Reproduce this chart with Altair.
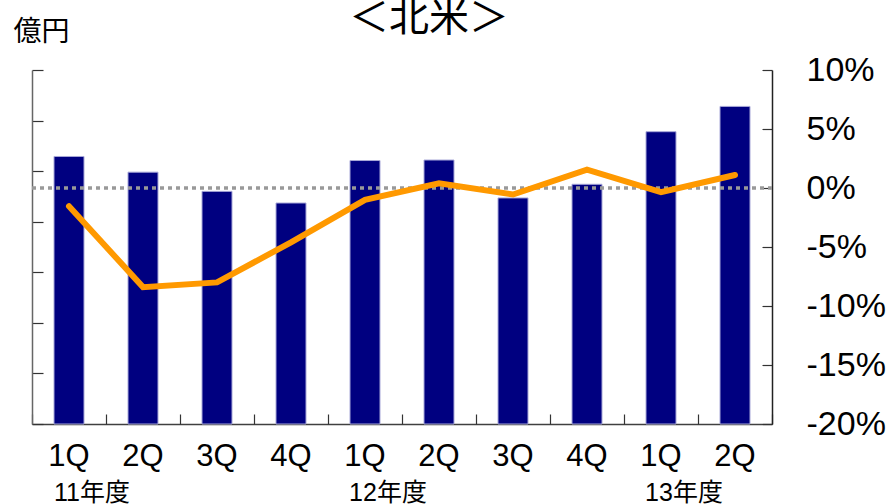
import altair as alt
import pandas as pd

# ---- data ----
quarters = ["1Q", "2Q", "3Q", "4Q", "1Q", "2Q", "3Q", "4Q", "1Q", "2Q"]
years = ["11年度", "11年度", "11年度", "11年度", "12年度", "12年度", "12年度", "12年度", "13年度", "13年度"]
sales = [529, 498, 460, 437, 521, 522, 447, 474, 578, 628]          # 億円 (left axis, unlabeled)
growth = [-1.55, -8.4, -8.0, -4.6, -1.0, 0.4, -0.55, 1.55, -0.35, 1.1]  # % (right axis)
left_ticks = [0, 100, 200, 300, 400, 500, 600, 700]
right_ticks = [-20, -15, -10, -5, 0, 5, 10]

keys = [f"{y}|{q}" for y, q in zip(years, quarters)]
df = pd.DataFrame({"key": keys, "quarter": quarters, "year": years,
                   "sales": sales, "growth": growth})
zero = pd.DataFrame({"growth": [0]})

W, H = 740, 354
LATIN = "Liberation Sans"
CJK = "Noto Sans CJK JP"

xscale = alt.Scale(paddingInner=0, paddingOuter=0)

bars = alt.Chart(df).mark_bar(size=30, color="#000080", stroke="#a8a8d8", strokeWidth=1).encode(
    x=alt.X("key:N", sort=keys, scale=xscale,
            axis=alt.Axis(orient="bottom", title=None,
                          labelExpr="split(datum.label, '|')[1]",
                          labelFontSize=31, labelFont=LATIN, labelColor="black",
                          labelPadding=17, labelBaseline="top", labelAngle=0,
                          labelOverlap=False, ticks=False, domain=True,
                          domainColor="#404040", domainWidth=1.5, grid=False)),
    y=alt.Y("sales:Q", scale=alt.Scale(domain=[0, 700], nice=False, zero=True),
            axis=alt.Axis(orient="right", offset=-W, values=left_ticks, labels=False,
                          ticks=True, tickSize=11, tickColor="#333333", tickWidth=1.2,
                          domain=True, domainColor="#666666", domainWidth=1.5, grid=False,
                          title="億円", titleAngle=0, titleX=-19, titleY=-30,
                          titleAlign="left", titleBaseline="alphabetic", titleFont=CJK,
                          titleFontSize=28, titleFontWeight="normal", titleColor="black")),
)

year_axis = alt.Chart(df).mark_point(opacity=0).encode(
    x=alt.X("key:N", sort=keys, scale=xscale,
            axis=alt.Axis(orient="bottom", title=None,
                          labelExpr="split(datum.label, '|')[1] == '1Q' ? split(datum.label, '|')[0] : ''",
                          labelFontSize=25, labelFont=f"{LATIN}, '{CJK}'", labelColor="black",
                          labelPadding=56, labelBaseline="top", labelOffset=23, labelAngle=0,
                          labelOverlap=False, ticks=False, domain=False, grid=False)),
)

rule = alt.Chart(zero).mark_rule(color="#999999", strokeDash=[4, 4], strokeWidth=3.5).encode(
    y=alt.Y("growth:Q", scale=alt.Scale(domain=[-20, 10], nice=False),
            axis=alt.Axis(orient="right", values=right_ticks, labelExpr="datum.value + '%'",
                          labelFontSize=34, labelFont=LATIN, labelColor="black",
                          labelPadding=34, ticks=False, tickSize=0, domain=False,
                          grid=False, title=None)),
)

line = alt.Chart(df).mark_line(color="#FF9900", strokeWidth=6, strokeCap="round",
                               strokeJoin="miter").encode(
    x=alt.X("key:N", sort=keys, scale=xscale,
            axis=alt.Axis(orient="top", offset=-H, labels=False, ticks=True, tickSize=10,
                          tickBand="extent", tickColor="#333333", tickWidth=1.2,
                          domain=False, grid=False, title=None)),
    y=alt.Y("growth:Q", scale=alt.Scale(domain=[-20, 10], nice=False),
            axis=alt.Axis(orient="left", offset=-W, values=right_ticks, labels=False,
                          ticks=True, tickSize=10, tickColor="#333333", tickWidth=1.2,
                          domain=True, domainColor="#222222", domainWidth=1.5,
                          grid=False, title=None)),
)

chart = alt.layer(bars, year_axis, rule, line).resolve_scale(
    y="independent"
).resolve_axis(
    x="independent", y="independent"
).properties(
    width=W, height=H,
    title=alt.Title("＜北米＞", fontSize=40, font=CJK, fontWeight="normal",
                    color="black", anchor="middle", dx=27, dy=25),
    padding={"left": 32, "top": 70, "right": 122, "bottom": 80},
    autosize=alt.AutoSizeParams(type="none"),
).configure_view(stroke="transparent")

chart.save("out.html", embed_options={"renderer": "svg", "actions": False})
